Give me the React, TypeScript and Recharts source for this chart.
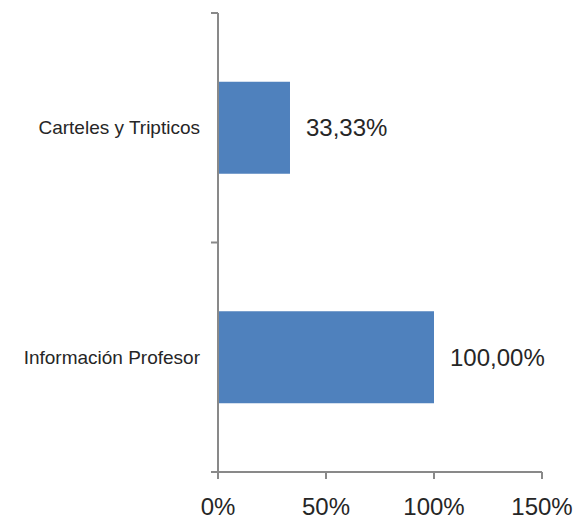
import React from "react";
import { BarChart, Bar, XAxis, YAxis, LabelList } from "recharts";

const categories = ["Carteles y Tripticos", "Información Profesor"];
const values = [33.33, 100];
const xTicks = [0, 50, 100, 150];

const data = categories.map((name, i) => ({ name, value: values[i] }));

const axisColor = "#898989";
const textColor = "#262626";
const font = "'Liberation Sans', Arial, sans-serif";

const pct = (v: number) => `${v}%`;
const labelFmt = (v: any) => `${Number(v).toFixed(2).replace(".", ",")}%`;

const TICK_MARGIN = 18;
const TICK_LEN = 7;

// category label plus the Excel-style tick marks on the band edges
function CategoryTick(props: any) {
  const { x, y, payload, index, visibleTicksCount, height } = props;
  const band = height / visibleTicksCount;
  const ax = x + TICK_MARGIN;
  const last = index === visibleTicksCount - 1;
  return (
    <g>
      <line x1={ax - TICK_LEN} x2={ax} y1={y - band / 2} y2={y - band / 2} stroke={axisColor} strokeWidth={2} />
      {last && (
        <line x1={ax - TICK_LEN} x2={ax} y1={y + band / 2} y2={y + band / 2} stroke={axisColor} strokeWidth={2} />
      )}
      <text x={x} y={y} dy="0.355em" textAnchor="end" fill={textColor} fontSize={19} fontFamily={font}>
        {payload.value}
      </text>
    </g>
  );
}

export default function App() {
  return (
    <BarChart
      width={580}
      height={514}
      data={data}
      layout="vertical"
      barCategoryGap="30%"
      margin={{ top: 5, right: 46, bottom: 0, left: 0 }}
      style={{ fontFamily: font }}
    >
      <XAxis
        type="number"
        domain={[0, 150]}
        ticks={xTicks}
        tickFormatter={pct}
        stroke={axisColor}
        strokeWidth={2}
        tickSize={7}
        tickMargin={19}
        height={50}
        tick={{ fill: textColor, fontSize: 24, fontFamily: font }}
      />
      <YAxis
        type="category"
        dataKey="name"
        width={210}
        stroke={axisColor}
        strokeWidth={2}
        tickLine={false}
        tickSize={0}
        tickMargin={TICK_MARGIN}
        tick={<CategoryTick />}
      />
      <Bar dataKey="value" fill="#4F81BD" isAnimationActive={false}>
        <LabelList
          dataKey="value"
          position="right"
          offset={16}
          formatter={labelFmt}
          style={{ fill: textColor, fontSize: 24, fontFamily: font }}
        />
      </Bar>
    </BarChart>
  );
}
